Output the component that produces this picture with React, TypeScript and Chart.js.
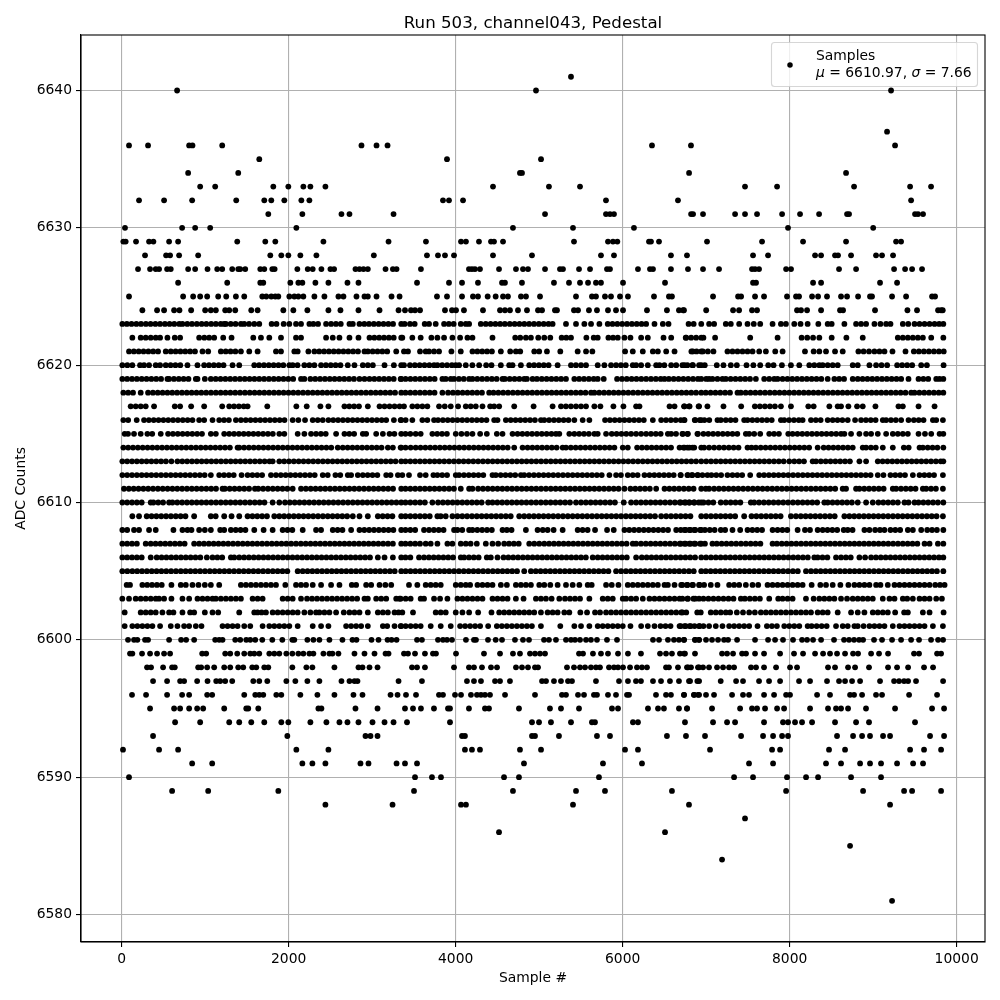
import React, { useEffect, useRef } from "react";
import { Chart, registerables } from "chart.js";

Chart.register(...registerables);

const titleText = "Run 503, channel043, Pedestal";
const xTitle = "Sample #";
const yTitle = "ADC Counts";
const legendName = "Samples";
const meanText = "6610.97";
const sigmaText = "7.66";
const xTickValues = [0, 2000, 4000, 6000, 8000, 10000];
const yTickValues = [6580, 6590, 6600, 6610, 6620, 6630, 6640];

const r6641 = [5381];
const r6640 = [664, 4962, 9214];
const r6637 = [9166];
const r6636 = [88, 316, 808, 848, 1204, 2872, 3052, 3184, 6351, 6818, 9262];
const r6635 = [1648, 3896, 5022];
const r6634 = [796, 1396, 4770, 4794, 6795, 8675];
const r6633 = [940, 1120, 1816, 1996, 2176, 2260, 2440, 4447, 5117, 5489, 7465, 7849, 8771, 9442, 9693];
const r6632 = [208, 508, 844, 1372, 1708, 1792, 1948, 2152, 2248, 3848, 3920, 4088, 5800, 6662, 9454];
const r6631 = [1756, 2164, 2632, 2728, 3256, 5070, 5800, 5848, 5896, 6819, 6843, 6962, 7346, 7465, 7609, 7909, 8124, 8352, 8687, 8711, 9501, 9537, 9597];
const r6630 = [40, 724, 880, 1060, 2092, 4686, 5405, 6135, 7980, 9000];
const r6629 = [20, 48, 172, 328, 380, 568, 676, 1384, 1720, 1840, 2416, 3196, 3644, 4064, 4123, 4279, 4423, 4459, 4567, 5417, 5824, 5884, 5936, 6315, 6339, 6435, 7010, 7669, 8160, 8675, 9274, 9334];
const r6628 = [280, 532, 580, 688, 916, 1780, 1912, 1996, 2140, 2332, 3020, 3656, 3788, 3872, 3980, 4447, 4914, 5740, 5896, 6578, 6770, 7561, 7741, 8304, 8376, 8543, 8579, 8735, 9034, 9106, 9238];
const r6627 = [196, 340, 408, 448, 544, 588, 796, 880, 1028, 1144, 1204, 1324, 1396, 1420, 1480, 1660, 1708, 1804, 1832, 2104, 2228, 2288, 2392, 2500, 2544, 2800, 2848, 2896, 2948, 3160, 3248, 3292, 3584, 4159, 4195, 4231, 4291, 4519, 4722, 4806, 4866, 5070, 5249, 5285, 5477, 5609, 5812, 5848, 6183, 6327, 6363, 6578, 6782, 6962, 7154, 7549, 7585, 7633, 7957, 8016, 8591, 8795, 9250, 9382, 9466, 9585];
const r6626 = [676, 1264, 1660, 1696, 2020, 2116, 2164, 2320, 2476, 2704, 2836, 3537, 3920, 4076, 4267, 4555, 4590, 4794, 5177, 5357, 5489, 5585, 5680, 5740, 6004, 6507, 7561, 7597, 8280, 8376, 9082, 9286];
const r6625 = [88, 736, 856, 940, 1024, 1156, 1252, 1368, 1468, 1684, 1732, 1792, 1840, 1876, 2008, 2068, 2116, 2176, 2308, 2428, 2596, 2656, 2812, 2908, 2948, 3052, 3232, 3328, 3776, 3896, 4076, 4207, 4267, 4383, 4479, 4567, 4626, 4782, 4842, 5010, 5441, 5632, 5680, 5788, 5860, 5968, 6063, 6375, 6554, 6590, 7082, 7382, 7418, 7585, 7693, 7968, 8076, 8112, 8268, 8340, 8447, 8615, 8687, 8819, 8962, 8986, 9226, 9394, 9705, 9741];
const r6624 = [248, 424, 508, 628, 692, 832, 1000, 1068, 1128, 1240, 1288, 1360, 1552, 1628, 1936, 2056, 2224, 2476, 2620, 2836, 3088, 3316, 3393, 3465, 3513, 3573, 3872, 3956, 4004, 4099, 4327, 4531, 4590, 4650, 4746, 4854, 4986, 5034, 5189, 5213, 5417, 5465, 5596, 5692, 5824, 5920, 6004, 6291, 6530, 6674, 6734, 6723, 7000, 7322, 7394, 7549, 7609, 8088, 8136, 8208, 8376, 8603, 8639, 9022, 9410, 9525, 9777, 9813, 9833];
const r6623 = [8, 62, 118, 176, 232, 290, 346, 404, 460, 518, 574, 630, 690, 728, 786, 842, 900, 958, 1014, 1072, 1128, 1186, 1228, 1248, 1306, 1364, 1428, 1468, 1526, 1588, 1648, 1796, 1854, 1940, 2008, 2088, 2148, 2248, 2296, 2352, 2448, 2508, 2566, 2624, 2728, 2768, 2848, 2906, 2962, 3020, 3078, 3136, 3194, 3250, 3348, 3389, 3453, 3509, 3629, 3681, 3761, 3861, 3918, 3976, 4061, 4121, 4161, 4301, 4360, 4418, 4476, 4533, 4589, 4648, 4706, 4764, 4822, 4880, 4938, 4996, 5054, 5112, 5161, 5321, 5441, 5541, 5621, 5721, 5821, 5878, 5936, 5994, 6052, 6110, 6168, 6226, 6281, 6381, 6481, 6549, 6789, 6850, 6941, 7035, 7095, 7235, 7295, 7395, 7495, 7570, 7647, 7795, 7895, 7955, 8055, 8130, 8215, 8343, 8455, 8503, 8655, 8795, 8855, 8915, 9015, 9087, 9155, 9207, 9355, 9420, 9495, 9555, 9615, 9675, 9735, 9790, 9840];
const r6622 = [128, 228, 288, 348, 408, 460, 548, 636, 700, 928, 990, 1048, 1108, 1216, 1316, 1576, 1668, 1768, 1908, 2088, 2148, 2448, 2528, 2608, 2728, 2836, 2968, 3026, 3084, 3142, 3200, 3258, 3348, 3361, 3481, 3581, 3709, 3781, 3861, 3961, 4053, 4141, 4201, 4441, 4713, 4773, 4841, 4901, 4989, 5061, 5133, 5269, 5325, 5381, 5565, 5653, 5701, 5829, 5885, 5941, 6021, 6093, 6221, 6301, 6489, 6581, 6761, 6820, 6880, 6941, 6755, 6967, 7107, 7527, 7855, 8143, 8210, 8280, 8355, 8503, 8679, 8875, 9295, 9355, 9415, 9475, 9535, 9595, 9695, 9840];
const r6621 = [88, 146, 204, 262, 320, 378, 436, 528, 588, 646, 704, 762, 820, 878, 968, 1036, 1188, 1246, 1304, 1362, 1428, 1528, 1628, 1848, 1908, 2068, 2108, 2236, 2308, 2366, 2424, 2482, 2540, 2598, 2656, 2714, 2772, 2830, 2908, 2948, 3006, 3064, 3122, 3180, 3288, 3381, 3429, 3573, 3641, 3681, 3741, 3801, 3949, 4061, 4201, 4260, 4318, 4376, 4434, 4541, 4653, 4721, 4773, 4941, 5000, 5093, 5253, 5461, 5561, 5637, 6029, 6121, 6241, 6361, 6421, 6521, 6621, 6841, 6941, 6823, 6885, 6960, 7020, 7087, 7255, 7315, 7375, 7435, 7495, 7555, 7635, 7715, 7827, 7915, 8183, 8287, 8355, 8435, 8543, 8635, 8823, 8885, 8950, 9015, 9075, 9135, 9231, 9387, 9487, 9547, 9607, 9667, 9727, 9787, 9845];
const r6620 = [8, 68, 128, 220, 268, 328, 408, 460, 528, 586, 644, 702, 788, 908, 988, 1046, 1104, 1162, 1220, 1328, 1408, 1588, 1646, 1704, 1762, 1820, 1878, 1936, 2008, 2048, 2106, 2188, 2248, 2308, 2388, 2446, 2504, 2562, 2620, 2708, 2788, 2888, 2948, 3008, 3148, 3260, 3348, 3381, 3453, 3511, 3569, 3627, 3685, 3741, 3781, 3839, 3897, 3955, 4001, 4041, 4121, 4200, 4281, 4365, 4429, 4541, 4641, 4681, 4781, 4881, 4939, 4997, 5055, 5113, 5221, 5381, 5440, 5501, 5561, 5701, 5781, 5861, 5921, 5979, 6037, 6121, 6161, 6221, 6301, 6401, 6441, 6499, 6581, 6641, 6741, 6841, 6941, 6715, 6775, 6835, 6915, 6983, 7127, 7207, 7295, 7367, 7483, 7565, 7647, 7743, 7807, 7907, 8015, 8115, 8235, 8295, 8355, 8395, 8455, 8515, 8575, 8755, 8815, 8955, 9035, 9100, 9167, 9287, 9347, 9407, 9467, 9575, 9643, 9843];
const r6619 = [8, 66, 124, 182, 240, 298, 356, 414, 472, 548, 568, 626, 684, 742, 800, 888, 908, 996, 1068, 1126, 1184, 1242, 1300, 1358, 1416, 1474, 1532, 1590, 1648, 1706, 1764, 1822, 1880, 1938, 1996, 2054, 2148, 2188, 2260, 2318, 2376, 2434, 2492, 2550, 2608, 2666, 2724, 2782, 2848, 2908, 2968, 3026, 3084, 3142, 3200, 3258, 3348, 3341, 3400, 3458, 3516, 3574, 3632, 3690, 3748, 3841, 3881, 3941, 3981, 4039, 4097, 4161, 4201, 4259, 4317, 4375, 4433, 4491, 4561, 4589, 4647, 4705, 4763, 4821, 4853, 4921, 4973, 5031, 5089, 5147, 5205, 5263, 5321, 5421, 5479, 5537, 5595, 5653, 5701, 5773, 5933, 5991, 6049, 6107, 6165, 6223, 6281, 6339, 6397, 6455, 6501, 6553, 6611, 6669, 6727, 6785, 6843, 6901, 6941, 7000, 7035, 7075, 7135, 7195, 7235, 7293, 7351, 7409, 7467, 7525, 7595, 7695, 7755, 7815, 7855, 7915, 7973, 8031, 8089, 8147, 8205, 8263, 8321, 8379, 8455, 8535, 8593, 8651, 8755, 8815, 8873, 8931, 8989, 9047, 9105, 9163, 9221, 9279, 9335, 9423, 9543, 9601, 9659, 9755, 9795, 9840];
const r6618 = [20, 78, 136, 228, 316, 374, 432, 490, 548, 606, 664, 722, 780, 838, 896, 954, 1012, 1070, 1128, 1186, 1244, 1302, 1360, 1418, 1476, 1534, 1592, 1650, 1708, 1766, 1824, 1882, 1940, 1998, 2056, 2114, 2172, 2230, 2288, 2346, 2404, 2462, 2520, 2578, 2636, 2694, 2752, 2810, 2868, 2926, 2984, 3042, 3100, 3158, 3216, 3274, 3348, 3399, 3457, 3515, 3573, 3631, 3689, 3747, 3841, 3909, 3967, 4025, 4083, 4141, 4199, 4257, 4315, 4401, 4453, 4511, 4569, 4627, 4685, 4743, 4801, 4859, 4917, 4975, 5033, 5091, 5149, 5207, 5265, 5323, 5381, 5439, 5497, 5555, 5621, 5661, 5719, 5777, 5835, 5893, 5951, 6009, 6067, 6125, 6183, 6241, 6299, 6357, 6415, 6473, 6531, 6589, 6647, 6705, 6763, 6821, 6879, 6941, 6995, 7053, 7111, 7169, 7227, 7285, 7375, 7415, 7473, 7531, 7589, 7647, 7705, 7763, 7821, 7879, 7937, 7995, 8053, 8111, 8169, 8227, 8285, 8343, 8401, 8459, 8517, 8575, 8633, 8691, 8749, 8807, 8865, 8923, 8981, 9039, 9097, 9155, 9213, 9271, 9329, 9387, 9455, 9495, 9553, 9611, 9669, 9727, 9785, 9840];
const r6617 = [108, 168, 228, 288, 388, 636, 700, 832, 988, 1204, 1288, 1346, 1404, 1462, 1508, 1744, 2092, 2216, 2380, 2476, 2668, 2726, 2784, 2842, 2948, 3088, 3148, 3208, 3268, 3328, 3381, 3481, 3541, 3601, 3661, 3801, 3869, 3941, 4029, 4121, 4180, 4241, 4321, 4413, 4461, 4521, 4701, 4933, 5161, 5261, 5320, 5380, 5441, 5501, 5561, 5661, 5733, 5889, 6009, 6161, 6201, 6561, 6621, 6741, 6801, 6909, 6735, 6795, 6915, 7015, 7207, 7419, 7583, 7643, 7703, 7763, 7823, 7895, 8015, 8223, 8287, 8475, 8575, 8615, 8703, 8807, 8875, 9027, 9303, 9355, 9543, 9735];
const r6616 = [20, 78, 180, 268, 326, 384, 442, 500, 558, 616, 674, 732, 790, 848, 928, 988, 1088, 1168, 1226, 1284, 1368, 1428, 1486, 1544, 1602, 1660, 1718, 1776, 1834, 1892, 1950, 2048, 2116, 2196, 2288, 2348, 2408, 2476, 2534, 2592, 2650, 2708, 2766, 2824, 2882, 2940, 2998, 3056, 3114, 3168, 3260, 3348, 3341, 3401, 3481, 3601, 3661, 3741, 3789, 3847, 3905, 3963, 4021, 4079, 4137, 4195, 4253, 4311, 4369, 4461, 4501, 4601, 4659, 4717, 4775, 4833, 4891, 4949, 5021, 5061, 5119, 5177, 5235, 5293, 5351, 5421, 5521, 5601, 5789, 5847, 5905, 5963, 6021, 6079, 6137, 6195, 6253, 6361, 6461, 6519, 6577, 6635, 6741, 6869, 6941, 6695, 6735, 6863, 6921, 6979, 7037, 7135, 7175, 7235, 7293, 7351, 7455, 7495, 7553, 7611, 7669, 7727, 7785, 7895, 7935, 7993, 8051, 8109, 8155, 8255, 8313, 8371, 8455, 8515, 8573, 8631, 8695, 8783, 8855, 8913, 8971, 9029, 9115, 9155, 9213, 9271, 9335, 9423, 9487, 9545, 9603, 9715, 9755, 9835];
const r6615 = [36, 76, 148, 228, 308, 366, 468, 556, 614, 672, 730, 788, 846, 904, 962, 1068, 1128, 1228, 1288, 1346, 1404, 1462, 1520, 1578, 1636, 1694, 1752, 1810, 1888, 1948, 2108, 2188, 2268, 2328, 2386, 2444, 2568, 2668, 2726, 2784, 2888, 2928, 3048, 3128, 3208, 3266, 3348, 3399, 3457, 3521, 3581, 3721, 3779, 3837, 3895, 4001, 4069, 4135, 4201, 4293, 4373, 4493, 4561, 4681, 4741, 4799, 4857, 4915, 4973, 5031, 5089, 5147, 5201, 5241, 5361, 5421, 5479, 5537, 5595, 5661, 5701, 5801, 5869, 5927, 5985, 6043, 6101, 6161, 6221, 6281, 6339, 6397, 6455, 6541, 6581, 6639, 6721, 6781, 6901, 6715, 6775, 6895, 6967, 7025, 7083, 7141, 7199, 7257, 7315, 7373, 7475, 7515, 7575, 7647, 7755, 7813, 7871, 7983, 8035, 8093, 8151, 8209, 8267, 8325, 8383, 8441, 8499, 8557, 8615, 8655, 8735, 8835, 8915, 8975, 9055, 9155, 9235, 9295, 9355, 9415, 9543, 9620, 9695, 9795, 9840];
const r6614 = [20, 78, 136, 194, 252, 310, 368, 426, 484, 542, 600, 658, 716, 774, 832, 890, 948, 1006, 1064, 1122, 1180, 1238, 1296, 1388, 1408, 1466, 1524, 1582, 1640, 1698, 1756, 1814, 1872, 1930, 1988, 2046, 2104, 2162, 2220, 2278, 2336, 2394, 2452, 2510, 2588, 2648, 2706, 2764, 2822, 2880, 2938, 2996, 3054, 3112, 3188, 3248, 3348, 3341, 3400, 3461, 3521, 3579, 3637, 3695, 3753, 3811, 3869, 3927, 3985, 4043, 4101, 4159, 4217, 4275, 4333, 4391, 4449, 4507, 4565, 4623, 4701, 4801, 4861, 4919, 4977, 5035, 5093, 5151, 5209, 5281, 5321, 5379, 5437, 5495, 5553, 5611, 5669, 5727, 5785, 5843, 5901, 6001, 6061, 6173, 6231, 6289, 6347, 6405, 6463, 6521, 6579, 6681, 6741, 6799, 6857, 6941, 6727, 6775, 6835, 6975, 7035, 7095, 7155, 7213, 7271, 7329, 7387, 7495, 7543, 7595, 7653, 7711, 7769, 7827, 7885, 7943, 8001, 8059, 8117, 8175, 8233, 8335, 8407, 8465, 8523, 8581, 8639, 8697, 8755, 8875, 8915, 8973, 9031, 9115, 9235, 9367, 9425, 9555, 9595, 9653, 9711, 9769, 9840];
const r6613 = [8, 66, 124, 182, 240, 298, 356, 414, 472, 530, 596, 668, 726, 784, 842, 900, 958, 1016, 1074, 1132, 1190, 1248, 1306, 1364, 1422, 1480, 1538, 1596, 1654, 1712, 1770, 1808, 1888, 1946, 2004, 2062, 2120, 2178, 2236, 2294, 2352, 2410, 2468, 2526, 2584, 2642, 2700, 2758, 2816, 2874, 2932, 2990, 3048, 3106, 3164, 3222, 3280, 3348, 3399, 3457, 3515, 3573, 3631, 3689, 3747, 3805, 3863, 3921, 3979, 4037, 4095, 4153, 4211, 4269, 4327, 4385, 4443, 4501, 4559, 4617, 4675, 4733, 4791, 4849, 4907, 4965, 5023, 5081, 5139, 5197, 5255, 5313, 5371, 5429, 5487, 5545, 5603, 5661, 5719, 5777, 5835, 5893, 5951, 6009, 6067, 6125, 6183, 6241, 6299, 6357, 6415, 6473, 6531, 6589, 6647, 6705, 6763, 6821, 6879, 6941, 7000, 7058, 7116, 7174, 7232, 7290, 7348, 7406, 7464, 7522, 7580, 7638, 7696, 7754, 7812, 7870, 7928, 7995, 8055, 8113, 8171, 8275, 8315, 8373, 8431, 8489, 8547, 8605, 8663, 8721, 8835, 8915, 9055, 9113, 9171, 9229, 9287, 9345, 9403, 9461, 9519, 9577, 9635, 9693, 9751, 9809, 9840];
const r6612 = [8, 66, 124, 182, 240, 298, 356, 414, 472, 530, 588, 646, 704, 762, 820, 878, 936, 994, 1068, 1168, 1226, 1284, 1342, 1436, 1508, 1566, 1624, 1682, 1788, 1848, 1906, 1964, 2022, 2080, 2138, 2196, 2254, 2312, 2408, 2468, 2560, 2618, 2708, 2748, 2828, 2888, 2946, 3004, 3062, 3168, 3220, 3308, 3361, 3441, 3573, 3641, 3733, 3781, 3839, 3897, 4001, 4041, 4099, 4157, 4215, 4273, 4331, 4441, 4481, 4539, 4597, 4655, 4713, 4781, 4821, 4879, 4937, 4995, 5053, 5111, 5169, 5227, 5285, 5343, 5401, 5459, 5517, 5575, 5633, 5691, 5749, 5841, 5921, 5979, 6061, 6121, 6179, 6261, 6321, 6379, 6437, 6495, 6553, 6611, 6693, 6781, 6829, 6901, 6695, 6775, 6835, 6895, 6955, 7015, 7063, 7121, 7179, 7255, 7315, 7373, 7431, 7527, 7635, 7693, 7751, 7809, 7867, 7925, 7983, 8041, 8099, 8157, 8215, 8273, 8331, 8389, 8447, 8505, 8563, 8621, 8679, 8737, 8795, 8853, 8911, 8969, 9055, 9123, 9207, 9265, 9323, 9381, 9475, 9555, 9613, 9671, 9729, 9835];
const r6611 = [28, 86, 144, 202, 260, 318, 376, 434, 492, 550, 608, 666, 724, 782, 840, 898, 956, 1014, 1072, 1130, 1208, 1236, 1294, 1352, 1410, 1468, 1526, 1596, 1636, 1694, 1752, 1810, 1868, 1926, 1984, 2048, 2148, 2206, 2264, 2322, 2380, 2438, 2496, 2554, 2612, 2670, 2728, 2786, 2844, 2902, 2960, 3018, 3076, 3134, 3192, 3250, 3348, 3399, 3457, 3515, 3573, 3631, 3689, 3747, 3805, 3863, 3921, 3979, 4061, 4161, 4201, 4269, 4327, 4385, 4443, 4501, 4559, 4617, 4675, 4733, 4791, 4849, 4907, 4965, 5023, 5081, 5139, 5197, 5255, 5313, 5371, 5429, 5487, 5545, 5603, 5661, 5719, 5777, 5835, 5893, 5951, 6021, 6093, 6151, 6209, 6267, 6325, 6401, 6501, 6559, 6617, 6675, 6733, 6791, 6849, 6941, 6995, 7035, 7095, 7153, 7211, 7269, 7327, 7385, 7443, 7501, 7559, 7617, 7675, 7733, 7791, 7849, 7907, 7965, 8023, 8081, 8139, 8197, 8255, 8313, 8371, 8429, 8487, 8545, 8635, 8675, 8795, 8835, 8893, 8951, 9009, 9067, 9125, 9235, 9275, 9333, 9391, 9449, 9507, 9595, 9635, 9693, 9751, 9835];
const r6610 = [8, 66, 124, 182, 240, 348, 380, 438, 496, 568, 608, 666, 724, 782, 840, 898, 956, 1014, 1072, 1130, 1188, 1246, 1304, 1362, 1420, 1478, 1536, 1594, 1652, 1710, 1808, 1888, 1956, 2014, 2072, 2130, 2188, 2246, 2304, 2362, 2420, 2478, 2536, 2594, 2652, 2710, 2768, 2826, 2884, 2942, 3000, 3058, 3116, 3174, 3232, 3290, 3348, 3399, 3457, 3515, 3573, 3631, 3721, 3789, 3847, 3905, 3963, 4021, 4079, 4137, 4195, 4253, 4311, 4389, 4441, 4499, 4557, 4615, 4673, 4731, 4789, 4847, 4905, 4963, 5021, 5079, 5137, 5195, 5253, 5311, 5369, 5441, 5501, 5559, 5617, 5675, 5733, 5791, 5849, 5907, 6013, 6101, 6161, 6219, 6277, 6335, 6393, 6451, 6509, 6567, 6625, 6683, 6741, 6801, 6859, 6941, 6695, 6755, 6795, 6853, 6911, 6969, 7027, 7085, 7175, 7235, 7293, 7351, 7409, 7535, 7575, 7633, 7691, 7749, 7807, 7865, 7923, 7981, 8039, 8097, 8155, 8213, 8271, 8329, 8415, 8455, 8513, 8571, 8629, 8687, 8745, 8815, 8915, 8995, 9063, 9121, 9179, 9237, 9295, 9375, 9423, 9495, 9543, 9601, 9659, 9717, 9775, 9840];
const r6609 = [128, 208, 300, 358, 416, 474, 532, 590, 648, 706, 764, 868, 1068, 1126, 1228, 1316, 1408, 1508, 1566, 1624, 1682, 1740, 1828, 1888, 1946, 2004, 2062, 2120, 2178, 2236, 2294, 2352, 2410, 2468, 2526, 2584, 2642, 2700, 2768, 2848, 2948, 3068, 3126, 3184, 3242, 3348, 3399, 3457, 3515, 3573, 3631, 3689, 3781, 3821, 3881, 3961, 4021, 4079, 4137, 4195, 4253, 4311, 4369, 4427, 4485, 4543, 4601, 4659, 4761, 4821, 4879, 4937, 4995, 5053, 5111, 5169, 5227, 5285, 5343, 5401, 5459, 5517, 5575, 5633, 5691, 5749, 5807, 5865, 5923, 5981, 6039, 6097, 6155, 6213, 6271, 6329, 6387, 6461, 6521, 6579, 6637, 6695, 6753, 6811, 6941, 6999, 7057, 7115, 7173, 7231, 7289, 7347, 7455, 7543, 7601, 7659, 7717, 7775, 7833, 7891, 8015, 8075, 8133, 8191, 8249, 8307, 8365, 8423, 8481, 8539, 8655, 8715, 8773, 8831, 8889, 8947, 9005, 9063, 9121, 9179, 9237, 9295, 9353, 9411, 9469, 9527, 9585, 9643, 9701, 9759, 9835];
const r6608 = [8, 66, 148, 208, 328, 408, 620, 728, 788, 836, 928, 996, 1068, 1180, 1228, 1308, 1366, 1424, 1482, 1588, 1700, 1808, 1928, 1986, 2044, 2168, 2328, 2388, 2528, 2586, 2644, 2748, 2848, 2906, 2964, 3022, 3080, 3138, 3196, 3254, 3348, 3399, 3457, 3515, 3621, 3681, 3739, 3797, 3855, 3981, 4021, 4079, 4161, 4201, 4259, 4317, 4375, 4433, 4561, 4613, 4669, 4841, 4981, 5043, 5101, 5173, 5281, 5461, 5520, 5580, 5669, 5813, 5893, 6021, 6079, 6137, 6195, 6253, 6311, 6369, 6427, 6485, 6543, 6641, 6741, 6799, 6857, 6941, 6695, 6753, 6811, 6869, 6927, 6985, 7043, 7101, 7175, 7227, 7315, 7407, 7495, 7553, 7611, 7669, 7795, 7855, 7913, 7971, 8095, 8183, 8243, 8335, 8395, 8453, 8511, 8569, 8647, 8695, 8753, 8895, 8955, 9023, 9081, 9135, 9207, 9265, 9323, 9415, 9475, 9575, 9647, 9705, 9763, 9840];
const r6607 = [8, 66, 124, 182, 288, 348, 406, 464, 522, 580, 638, 696, 754, 868, 928, 986, 1044, 1102, 1160, 1218, 1276, 1334, 1392, 1450, 1508, 1566, 1624, 1682, 1740, 1798, 1856, 1914, 1972, 2030, 2088, 2146, 2204, 2262, 2320, 2378, 2436, 2494, 2552, 2610, 2668, 2726, 2784, 2842, 2900, 2958, 3016, 3074, 3132, 3190, 3248, 3348, 3399, 3457, 3515, 3573, 3641, 3701, 3781, 3901, 3961, 4061, 4121, 4179, 4253, 4361, 4441, 4509, 4581, 4639, 4697, 4755, 4881, 4941, 5001, 5061, 5119, 5177, 5235, 5293, 5351, 5409, 5467, 5525, 5583, 5641, 5699, 5757, 5815, 5873, 5931, 5989, 6047, 6121, 6161, 6219, 6277, 6335, 6393, 6451, 6509, 6567, 6625, 6683, 6741, 6799, 6857, 6941, 6695, 6753, 6811, 6869, 6927, 6985, 7075, 7127, 7185, 7243, 7301, 7359, 7417, 7475, 7533, 7591, 7649, 7795, 7847, 7905, 7963, 8021, 8079, 8137, 8195, 8253, 8311, 8369, 8427, 8485, 8543, 8601, 8659, 8717, 8775, 8833, 8891, 8949, 9007, 9065, 9123, 9181, 9239, 9297, 9355, 9413, 9471, 9529, 9615, 9675, 9775, 9840];
const r6606 = [8, 66, 124, 182, 240, 348, 420, 478, 536, 594, 652, 710, 768, 826, 884, 942, 1020, 1088, 1146, 1204, 1308, 1348, 1408, 1466, 1524, 1582, 1640, 1698, 1756, 1814, 1872, 1930, 1988, 2046, 2104, 2162, 2220, 2278, 2336, 2394, 2452, 2510, 2568, 2626, 2684, 2742, 2800, 2858, 2916, 2974, 3068, 3148, 3248, 3348, 3399, 3457, 3561, 3621, 3679, 3737, 3795, 3853, 3911, 3969, 4061, 4101, 4159, 4217, 4275, 4373, 4421, 4501, 4573, 4631, 4689, 4747, 4805, 4863, 4921, 4979, 5037, 5095, 5153, 5211, 5269, 5327, 5385, 5443, 5501, 5559, 5641, 5701, 5759, 5817, 5875, 5933, 5991, 6049, 6161, 6229, 6287, 6345, 6403, 6461, 6519, 6577, 6635, 6693, 6751, 6809, 6867, 6941, 6999, 7057, 7115, 7173, 7231, 7289, 7347, 7405, 7463, 7521, 7579, 7637, 7695, 7753, 7811, 7869, 7927, 7985, 8043, 8101, 8159, 8217, 8295, 8335, 8393, 8451, 8555, 8615, 8673, 8731, 8835, 8903, 8975, 9033, 9091, 9149, 9207, 9265, 9323, 9381, 9439, 9497, 9555, 9613, 9671, 9729, 9787, 9840];
const r6605 = [8, 68, 128, 186, 244, 302, 360, 418, 476, 534, 592, 650, 708, 766, 824, 882, 940, 998, 1056, 1114, 1172, 1230, 1288, 1346, 1404, 1462, 1520, 1578, 1636, 1694, 1752, 1810, 1868, 1926, 1984, 2108, 2168, 2226, 2284, 2342, 2400, 2458, 2516, 2574, 2632, 2690, 2748, 2806, 2864, 2922, 2980, 3038, 3096, 3154, 3212, 3270, 3348, 3401, 3459, 3517, 3575, 3633, 3691, 3749, 3807, 3865, 3923, 3981, 4039, 4097, 4155, 4213, 4271, 4329, 4387, 4445, 4503, 4561, 4619, 4677, 4735, 4821, 4901, 4959, 5017, 5075, 5133, 5191, 5249, 5307, 5365, 5423, 5481, 5539, 5597, 5655, 5713, 5771, 5829, 5921, 5981, 6039, 6097, 6155, 6213, 6271, 6329, 6387, 6445, 6503, 6561, 6619, 6677, 6735, 6793, 6851, 6941, 6995, 7053, 7111, 7169, 7227, 7285, 7343, 7401, 7459, 7517, 7575, 7633, 7691, 7749, 7807, 7865, 7923, 7981, 8039, 8097, 8195, 8255, 8313, 8371, 8429, 8487, 8545, 8603, 8661, 8719, 8777, 8835, 8893, 8951, 9009, 9067, 9125, 9183, 9241, 9299, 9357, 9415, 9473, 9531, 9589, 9647, 9705, 9763, 9840];
const r6604 = [60, 100, 248, 306, 364, 422, 480, 596, 708, 768, 848, 920, 996, 1068, 1168, 1428, 1488, 1548, 1608, 1668, 1728, 1788, 1848, 1960, 2088, 2148, 2208, 2288, 2388, 2508, 2608, 2756, 2808, 2928, 2988, 3088, 3158, 3228, 3441, 3541, 3641, 3701, 3761, 3821, 4001, 4061, 4121, 4173, 4261, 4321, 4381, 4441, 4541, 4613, 4721, 4781, 4841, 4901, 5001, 5061, 5133, 5221, 5321, 5401, 5481, 5581, 5629, 5801, 5869, 5949, 6061, 6121, 6181, 6241, 6301, 6361, 6421, 6501, 6541, 6621, 6701, 6771, 6841, 6921, 6715, 6775, 6835, 6915, 6975, 7055, 7135, 7275, 7335, 7395, 7475, 7555, 7623, 7735, 7795, 7855, 7915, 7975, 8035, 8095, 8155, 8263, 8367, 8435, 8515, 8607, 8703, 8775, 8835, 8895, 8955, 9035, 9087, 9175, 9255, 9315, 9375, 9435, 9495, 9555, 9615, 9675, 9743, 9800, 9855];
const r6603 = [8, 88, 168, 228, 288, 348, 408, 448, 508, 596, 728, 808, 908, 968, 1028, 1088, 1128, 1188, 1248, 1308, 1368, 1428, 1568, 1628, 1688, 1928, 1988, 2048, 2148, 2220, 2280, 2340, 2400, 2460, 2520, 2580, 2640, 2700, 2760, 2820, 2908, 2948, 3048, 3108, 3168, 3288, 3328, 3341, 3401, 3461, 3581, 3621, 3741, 3813, 3901, 4021, 4081, 4141, 4201, 4261, 4321, 4441, 4501, 4561, 4621, 4721, 4813, 4961, 5021, 5081, 5149, 5241, 5309, 5369, 5429, 5489, 5601, 5761, 5821, 5881, 6001, 6041, 6101, 6161, 6241, 6321, 6381, 6441, 6501, 6561, 6621, 6681, 6781, 6869, 6715, 6775, 6847, 6915, 6967, 7027, 7087, 7147, 7207, 7267, 7327, 7415, 7463, 7523, 7583, 7643, 7755, 7863, 7915, 7975, 8035, 8195, 8287, 8355, 8415, 8475, 8535, 8615, 8687, 8755, 8815, 8875, 8935, 8995, 9115, 9195, 9255, 9355, 9407, 9475, 9555, 9615, 9675, 9755, 9823];
const r6602 = [36, 228, 288, 348, 408, 488, 568, 620, 728, 820, 868, 996, 1088, 1156, 1408, 1588, 1628, 1676, 1728, 1808, 1868, 1928, 1988, 2048, 2108, 2188, 2260, 2328, 2368, 2428, 2488, 2568, 2660, 2728, 2788, 2848, 2948, 3068, 3128, 3188, 3268, 3316, 3361, 3489, 3761, 3821, 3881, 4001, 4081, 4161, 4269, 4429, 4521, 4581, 4641, 4701, 4761, 4821, 4881, 4941, 5021, 5101, 5161, 5221, 5301, 5361, 5493, 5573, 5669, 5729, 5801, 5861, 5921, 5981, 6041, 6101, 6161, 6221, 6281, 6341, 6401, 6461, 6521, 6581, 6641, 6701, 6761, 6893, 6715, 6935, 7055, 7115, 7175, 7235, 7287, 7367, 7441, 7515, 7583, 7655, 7715, 7775, 7835, 7895, 7955, 8015, 8075, 8135, 8195, 8255, 8335, 8395, 8455, 8575, 8735, 8815, 8895, 8995, 9055, 9115, 9175, 9263, 9371, 9415, 9595, 9675, 9843];
const r6601 = [36, 128, 188, 248, 308, 368, 460, 588, 668, 748, 808, 888, 956, 1208, 1268, 1328, 1388, 1468, 1540, 1688, 1768, 1828, 1888, 1948, 2008, 2108, 2288, 2388, 2476, 2688, 2748, 2808, 2868, 2948, 3128, 3180, 3268, 3348, 3341, 3401, 3461, 3521, 3581, 3701, 3821, 3941, 4053, 4113, 4173, 4233, 4293, 4389, 4493, 4553, 4613, 4673, 4733, 4793, 4853, 4913, 5021, 5253, 5421, 5501, 5601, 5701, 5761, 5821, 5881, 5941, 6001, 6093, 6221, 6301, 6381, 6453, 6513, 6573, 6681, 6741, 6801, 6861, 6921, 6695, 6755, 6815, 6915, 6967, 7035, 7115, 7195, 7275, 7335, 7395, 7455, 7515, 7615, 7727, 7787, 7847, 7935, 7995, 8055, 8115, 8215, 8263, 8323, 8383, 8443, 8555, 8635, 8695, 8775, 8815, 8885, 8955, 9015, 9075, 9135, 9235, 9315, 9375, 9435, 9495, 9555, 9615, 9715, 9835];
const r6600 = [76, 148, 188, 280, 316, 568, 712, 772, 868, 1120, 1168, 1208, 1360, 1420, 1492, 1540, 1600, 1684, 1804, 1924, 2044, 2068, 2224, 2296, 2368, 2488, 2644, 2764, 2812, 2992, 3076, 3184, 3232, 3292, 3537, 3596, 3788, 3848, 3896, 3956, 4123, 4219, 4243, 4387, 4479, 4555, 4710, 4806, 4878, 5058, 5117, 5201, 5321, 5381, 5429, 5489, 5561, 5620, 5692, 5812, 5932, 6363, 6435, 6542, 6614, 6674, 6734, 6866, 6914, 6735, 6867, 6915, 6998, 7070, 7142, 7214, 7262, 7370, 7585, 7741, 7825, 7920, 8040, 8148, 8208, 8280, 8376, 8531, 8651, 8711, 8771, 8831, 8879, 9010, 9106, 9226, 9334, 9454, 9549, 9693, 9777, 9837];
const r6599 = [100, 128, 244, 340, 424, 508, 580, 964, 1012, 1240, 1300, 1384, 1468, 1540, 1588, 1648, 1768, 1828, 1888, 1972, 2044, 2116, 2176, 2248, 2296, 2416, 2488, 2524, 2596, 2788, 2908, 3028, 3160, 3196, 3381, 3429, 3513, 3632, 3728, 3764, 4004, 4339, 4531, 4686, 4770, 4890, 4950, 5010, 5070, 5477, 5525, 5644, 5740, 5824, 5944, 6063, 6219, 6447, 6519, 6590, 6686, 6746, 6866, 6735, 7190, 7250, 7322, 7430, 7477, 7585, 7693, 7885, 8052, 8160, 8304, 8400, 8483, 8567, 8663, 8759, 8819, 8975, 9070, 9178, 9489, 9549, 9765, 9813];
const r6598 = [304, 352, 496, 604, 636, 916, 952, 1024, 1108, 1228, 1300, 1396, 1456, 1564, 1612, 1708, 1756, 2044, 2212, 2284, 2548, 2836, 2884, 2968, 3064, 3477, 3537, 3632, 3980, 4159, 4219, 4315, 4423, 4495, 4722, 4794, 4866, 4950, 4986, 5333, 5417, 5489, 5549, 5620, 5680, 5728, 5836, 5896, 5944, 6004, 6088, 6171, 6231, 6291, 6519, 6554, 6662, 6770, 6818, 6902, 6783, 6915, 6962, 7034, 7130, 7202, 7274, 7334, 7537, 7597, 7693, 7837, 8004, 8088, 8459, 8543, 8699, 8783, 8950, 9178, 9286, 9418, 9609, 9717];
const r6597 = [376, 544, 700, 748, 904, 1028, 1132, 1180, 1240, 1324, 1576, 1648, 1744, 1972, 2080, 2224, 2368, 2632, 2728, 2788, 2824, 3316, 3596, 4135, 4219, 4303, 4471, 4531, 4650, 5034, 5082, 5177, 5261, 5345, 5393, 5680, 5956, 6063, 6159, 6219, 6363, 6459, 6566, 6674, 6794, 6894, 6807, 6915, 7174, 7358, 7441, 7633, 7753, 7885, 8112, 8244, 8447, 8591, 8663, 8747, 8843, 9082, 9250, 9310, 9370, 9418, 9513, 9837];
const r6596 = [124, 292, 544, 724, 808, 1024, 1084, 1468, 1600, 1648, 1696, 1852, 1912, 2140, 2344, 2548, 2776, 2884, 3220, 3304, 3405, 3525, 3800, 3848, 3992, 4064, 4183, 4255, 4303, 4351, 4411, 4591, 4950, 5273, 5321, 5465, 5537, 5656, 5692, 5824, 5920, 6052, 6076, 6399, 6519, 6578, 6734, 6854, 6902, 6735, 6855, 6915, 6998, 7094, 7310, 7441, 7513, 7693, 7813, 7957, 8004, 8328, 8483, 8723, 8771, 8867, 9034, 9106, 9430, 9765];
const r6595 = [340, 628, 700, 808, 904, 976, 1228, 1492, 1516, 1636, 2356, 2392, 2800, 3064, 3393, 3489, 3584, 3740, 3908, 3932, 4159, 4351, 4399, 4758, 5129, 5261, 5477, 5872, 5944, 6303, 6423, 6494, 6674, 6770, 6771, 7070, 7406, 7549, 7609, 7705, 7849, 7933, 8244, 8459, 8555, 8615, 8699, 8914, 9262, 9705, 9849];
const r6594 = [640, 940, 1288, 1408, 1552, 1708, 1912, 1996, 2260, 2452, 2608, 2704, 2836, 3004, 3148, 3256, 3417, 3932, 4914, 4998, 5141, 5381, 5632, 5668, 6123, 6183, 6746, 7082, 7250, 7346, 7693, 7920, 7980, 8064, 8148, 8268, 8543, 8795, 8950, 9501];
const r6593 = [376, 1984, 2920, 2980, 3064, 4076, 4111, 4914, 4950, 5237, 5692, 5848, 6530, 6758, 6986, 7418, 7681, 7801, 7909, 7980, 8567, 8759, 8867, 8962, 9118, 9202, 9681, 9849];
const r6592 = [16, 448, 676, 2092, 2476, 4111, 4195, 4291, 4770, 5022, 6028, 6183, 7046, 7789, 7885, 8471, 8663, 9442, 9609, 9813];
const r6591 = [844, 1084, 2164, 2284, 2440, 2860, 2956, 3292, 3393, 3537, 4818, 5764, 6231, 7513, 7801, 8435, 8615, 8843, 8962, 9094, 9286, 9478, 9597];
const r6590 = [88, 3513, 3716, 3824, 4579, 4758, 5716, 7334, 7561, 7968, 8196, 8340, 8735, 9094];
const r6589 = [604, 1036, 1876, 3501, 4686, 5441, 5788, 6590, 7957, 8879, 9370, 9466, 9813];
const r6588 = [2440, 3244, 4064, 4123, 5405, 6794, 9202];
const r6587 = [7465];
const r6586 = [4519, 6507];
const r6585 = [8723];
const r6584 = [7190];
const r6581 = [9226];

const rows: [number, number[]][] = [
  [6641, r6641], [6640, r6640], [6637, r6637], [6636, r6636], [6635, r6635], [6634, r6634], [6633, r6633],
  [6632, r6632], [6631, r6631], [6630, r6630], [6629, r6629], [6628, r6628], [6627, r6627], [6626, r6626],
  [6625, r6625], [6624, r6624], [6623, r6623], [6622, r6622], [6621, r6621], [6620, r6620], [6619, r6619],
  [6618, r6618], [6617, r6617], [6616, r6616], [6615, r6615], [6614, r6614], [6613, r6613], [6612, r6612],
  [6611, r6611], [6610, r6610], [6609, r6609], [6608, r6608], [6607, r6607], [6606, r6606], [6605, r6605],
  [6604, r6604], [6603, r6603], [6602, r6602], [6601, r6601], [6600, r6600], [6599, r6599], [6598, r6598],
  [6597, r6597], [6596, r6596], [6595, r6595], [6594, r6594], [6593, r6593], [6592, r6592], [6591, r6591],
  [6590, r6590], [6589, r6589], [6588, r6588], [6587, r6587], [6586, r6586], [6585, r6585], [6584, r6584], [6581, r6581],
];

const FONT = '"DejaVu Sans"';

const framePlugin = {
  id: "frameAndLegend",
  afterDraw(chart: any) {
    const { ctx, chartArea: a } = chart;
    ctx.save();
    ctx.strokeStyle = "#000";
    ctx.lineWidth = 1.1;
    ctx.strokeRect(a.left, a.top, a.right - a.left, a.bottom - a.top);

    const x = 771.5, y = 42.5, w = 206, h = 44, r = 3;
    ctx.beginPath();
    ctx.roundRect(x, y, w, h, r);
    ctx.fillStyle = "rgba(255,255,255,0.8)";
    ctx.fill();
    ctx.strokeStyle = "rgba(204,204,204,0.8)";
    ctx.lineWidth = 1.1;
    ctx.stroke();

    ctx.fillStyle = "#000";
    ctx.beginPath();
    ctx.arc(790, 65, 2.75, 0, Math.PI * 2);
    ctx.fill();

    ctx.textAlign = "left";
    ctx.textBaseline = "alphabetic";
    const normal = `13.89px ${FONT}`;
    const italic = `italic 13.89px ${FONT}`;
    ctx.font = normal;
    ctx.fillText(legendName, 816, 59.5);
    let cx = 816;
    const by = 77;
    const parts: [string, string][] = [
      ["\u03bc", italic],
      [` = ${meanText}, `, normal],
      ["\u03c3", italic],
      [` = ${sigmaText}`, normal],
    ];
    for (const [t, f] of parts) {
      ctx.font = f;
      ctx.fillText(t, cx, by);
      cx += ctx.measureText(t).width;
    }
    ctx.restore();
  },
};

export default function App() {
  const ref = useRef<HTMLCanvasElement>(null);
  useEffect(() => {
    const canvas = ref.current!;
    const data = rows.flatMap(([level, xs]) => xs.map((x) => ({ x, y: level })));
    const chart = new Chart(canvas, {
      type: "scatter",
      data: {
        datasets: [
          {
            label: legendName,
            data,
            backgroundColor: "#000",
            borderColor: "#000",
            borderWidth: 0,
            pointRadius: 2.9,
            pointHoverRadius: 2.9,
          },
        ],
      },
      options: {
        animation: false,
        responsive: false,
        events: [],
        layout: { padding: { left: 0, right: 15, top: 15, bottom: 0 } },
        plugins: {
          legend: { display: false },
          tooltip: { enabled: false },
          title: {
            display: true,
            text: titleText,
            color: "#000",
            fullSize: false,
            font: { family: FONT, size: 16.67, weight: "normal", lineHeight: 1 },
            padding: { top: 0, bottom: 3.33 },
          },
        },
        scales: {
          x: {
            type: "linear",
            min: -487,
            max: 10339,
            afterFit: (s: any) => { s.height = 58; },
            afterBuildTicks: (s: any) => { s.ticks = xTickValues.map((value) => ({ value })); },
            grid: { color: "#b0b0b0", lineWidth: 1.1, tickColor: "#000", tickLength: 5 },
            border: { color: "#000", width: 1.1 },
            ticks: {
              autoSkip: false,
              maxRotation: 0,
              color: "#000",
              padding: 4,
              font: { family: FONT, size: 13.89 },
              callback: (v: any) => String(v),
            },
            title: { display: true, text: xTitle, color: "#000", font: { family: FONT, size: 13.89 }, padding: { top: 4, bottom: 13 } },
          },
          y: {
            type: "linear",
            min: 6578,
            max: 6644.04,
            afterFit: (s: any) => { s.width = 81; },
            afterBuildTicks: (s: any) => { s.ticks = yTickValues.map((value) => ({ value })); },
            grid: { color: "#b0b0b0", lineWidth: 1.1, tickColor: "#000", tickLength: 5 },
            border: { color: "#000", width: 1.1 },
            ticks: {
              autoSkip: false,
              color: "#000",
              padding: 4,
              font: { family: FONT, size: 13.89 },
              callback: (v: any) => String(v),
            },
            title: { display: true, text: yTitle, color: "#000", font: { family: FONT, size: 13.89 }, padding: { top: 12.7, bottom: 4 } },
          },
        },
      },
      plugins: [framePlugin],
    } as any);
    return () => chart.destroy();
  }, []);
  return (
    <div style={{ position: "absolute", left: 0, top: 0, width: 1000, height: 1000, background: "#fff" }}>
      <canvas ref={ref} width={1000} height={1000} style={{ display: "block", width: 1000, height: 1000 }} />
    </div>
  );
}
